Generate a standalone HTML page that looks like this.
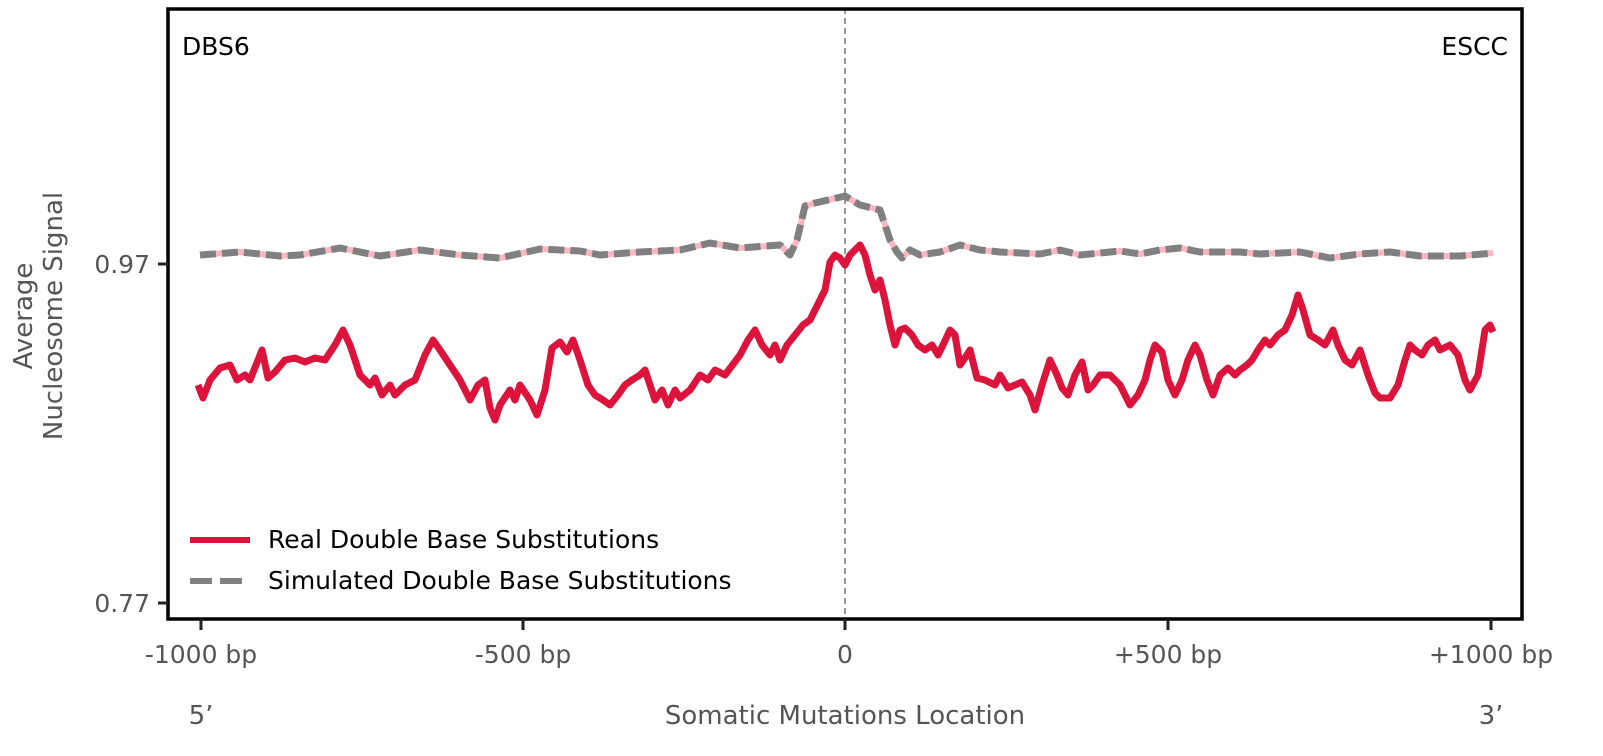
<!DOCTYPE html>
<html><head><meta charset="utf-8"><style>
body{margin:0;background:#fff;}
svg{display:block;font-family:"DejaVu Sans","Liberation Sans",sans-serif;}
</style></head><body>
<svg width="1603" height="756" viewBox="0 0 1603 756" xmlns="http://www.w3.org/2000/svg">
<rect width="1603" height="756" fill="#fff"/>
<line x1="845" y1="8" x2="845" y2="619" stroke="#777" stroke-width="1.5" stroke-dasharray="6,4"/>
<polyline fill="none" stroke="#ffb6c1" stroke-width="6" stroke-linejoin="round" points="200,255 240,252 280,256 300,255 340,248 380,256 420,250 460,255 500,258 540,249 580,251 600,255 640,252 680,250 710,243 740,248 780,245 790,255 797,240 805,206 815,203 845,196 860,205 880,210 890,240 897,252 902,258 910,250 920,255 940,252 960,245 980,250 1000,252 1040,254 1060,250 1080,255 1100,253 1120,251 1140,254 1160,250 1180,248 1200,252 1240,252 1260,254 1300,252 1330,258 1360,254 1390,252 1420,256 1460,256 1493,253"/>
<polyline fill="none" stroke="#808080" stroke-width="7" stroke-linejoin="round" stroke-dasharray="16,6" points="200,255 240,252 280,256 300,255 340,248 380,256 420,250 460,255 500,258 540,249 580,251 600,255 640,252 680,250 710,243 740,248 780,245 790,255 797,240 805,206 815,203 845,196 860,205 880,210 890,240 897,252 902,258 910,250 920,255 940,252 960,245 980,250 1000,252 1040,254 1060,250 1080,255 1100,253 1120,251 1140,254 1160,250 1180,248 1200,252 1240,252 1260,254 1300,252 1330,258 1360,254 1390,252 1420,256 1460,256 1493,253"/>
<polyline fill="none" stroke="#dc143c" stroke-width="7" stroke-linejoin="round" points="198,385 203,398 210,380 220,368 230,365 237,380 245,375 250,380 258,360 262,350 268,378 275,372 285,360 295,358 305,362 315,358 325,360 335,345 343,330 350,345 360,375 370,385 375,378 382,395 390,385 395,395 405,385 415,380 425,355 433,340 440,350 450,365 460,380 470,400 478,385 485,380 490,408 495,420 500,405 510,390 515,400 520,385 530,400 537,415 545,390 552,348 560,342 567,352 573,340 580,360 588,385 595,395 603,400 610,405 618,395 625,385 632,380 640,375 645,370 655,400 662,390 668,405 675,390 680,398 690,390 700,375 708,380 715,370 725,375 740,355 748,340 755,330 762,345 770,355 775,345 780,360 787,345 795,335 803,325 810,320 815,310 820,300 825,290 830,262 835,255 840,258 845,265 850,255 855,250 860,245 865,255 870,275 875,290 880,280 885,300 890,325 895,345 900,330 905,328 912,335 918,345 925,350 932,345 938,355 943,345 950,330 955,335 960,365 965,358 970,350 977,378 985,380 995,385 1000,375 1008,388 1015,385 1022,382 1030,395 1035,410 1042,385 1050,360 1057,375 1062,388 1068,395 1075,375 1082,362 1088,390 1093,385 1100,375 1110,375 1120,385 1130,405 1138,395 1145,380 1150,360 1155,345 1162,352 1168,380 1175,395 1182,380 1188,360 1195,345 1200,355 1207,380 1213,395 1220,375 1228,368 1235,375 1240,370 1247,365 1252,360 1258,350 1265,340 1270,345 1278,335 1285,330 1292,315 1298,295 1303,310 1310,335 1318,340 1325,345 1333,330 1338,345 1345,360 1352,365 1360,350 1368,375 1375,393 1380,398 1390,398 1398,385 1405,360 1410,345 1415,350 1422,355 1428,345 1435,340 1440,350 1450,345 1458,355 1465,380 1470,390 1478,375 1485,330 1490,325 1493,332"/>
<rect x="168" y="9" width="1354" height="610" fill="none" stroke="#000" stroke-width="3.5"/>
<line x1="158" y1="264" x2="168" y2="264" stroke="#222" stroke-width="3"/>
<line x1="158" y1="603" x2="168" y2="603" stroke="#222" stroke-width="3"/>
<g stroke="#222" stroke-width="3">
<line x1="201" y1="619" x2="201" y2="630"/><line x1="523" y1="619" x2="523" y2="630"/><line x1="845" y1="619" x2="845" y2="630"/><line x1="1168" y1="619" x2="1168" y2="630"/><line x1="1491" y1="619" x2="1491" y2="630"/>
</g>
<g fill="#555" font-size="25">
<text x="150" y="273" text-anchor="end">0.97</text>
<text x="150" y="612" text-anchor="end">0.77</text>
<text x="201" y="663" text-anchor="middle">-1000 bp</text>
<text x="523" y="663" text-anchor="middle">-500 bp</text>
<text x="845" y="663" text-anchor="middle">0</text>
<text x="1168" y="663" text-anchor="middle">+500 bp</text>
<text x="1491" y="663" text-anchor="middle">+1000 bp</text>
</g>
<g fill="#555" font-size="26">
<text x="201" y="724" text-anchor="middle">5’</text>
<text x="1491" y="724" text-anchor="middle">3’</text>
<text x="845" y="724" text-anchor="middle">Somatic Mutations Location</text>
<text transform="translate(32,316) rotate(-90)" text-anchor="middle">Average</text>
<text transform="translate(62,316) rotate(-90)" text-anchor="middle">Nucleosome Signal</text>
</g>
<g fill="#000" font-size="25">
<text x="182" y="55">DBS6</text>
<text x="1508" y="55" text-anchor="end">ESCC</text>
<text x="268" y="548">Real Double Base Substitutions</text>
<text x="268" y="589">Simulated Double Base Substitutions</text>
</g>
<line x1="190" y1="540" x2="250" y2="540" stroke="#dc143c" stroke-width="6"/>
<line x1="190" y1="581" x2="250" y2="581" stroke="#808080" stroke-width="6" stroke-dasharray="22,8"/>
</svg>
</body></html>
